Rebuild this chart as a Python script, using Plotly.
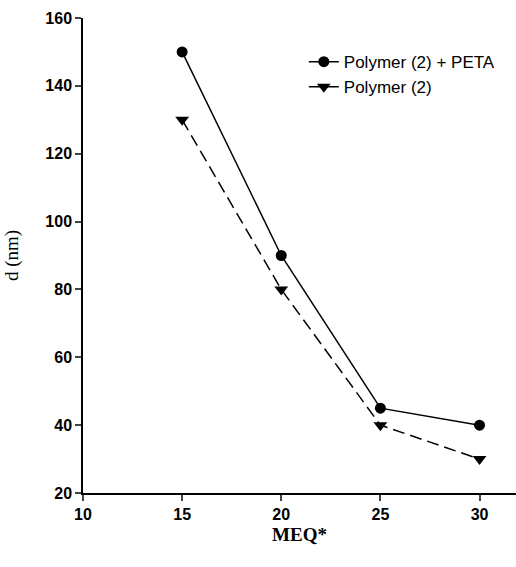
import plotly.graph_objects as go

meq = [15, 20, 25, 30]
peta = [150, 90, 45, 40]
poly = [130, 80, 40, 30]
x_ticks = [10, 15, 20, 25, 30]
y_ticks = [20, 40, 60, 80, 100, 120, 140, 160]

fig = go.Figure()
fig.add_trace(go.Scatter(
    x=meq, y=peta, name="Polymer (2) + PETA", mode="lines+markers",
    line=dict(color="black", width=1.5),
    marker=dict(symbol="circle", size=11, color="black")))
fig.add_trace(go.Scatter(
    x=meq, y=poly, name="Polymer (2)", mode="lines+markers",
    line=dict(color="black", width=1.5, dash="12px,6px"),
    marker=dict(symbol="triangle-down", size=12, color="black")))

tick_font = dict(family="Liberation Sans, Arial", size=16, weight="bold")

fig.update_layout(
    width=516, height=567,
    margin=dict(l=83, r=0, t=18, b=74),
    plot_bgcolor="white", paper_bgcolor="white",
    font=dict(family="Liberation Sans, Arial", color="black", size=13),
    showlegend=True,
    legend=dict(x=0.51, y=0.945, xanchor="left", yanchor="top",
                bgcolor="rgba(0,0,0,0)", font=dict(size=17),
                itemwidth=30, tracegroupgap=0),
    xaxis=dict(range=[10, 31.84], tickvals=x_ticks, ticks="outside", ticklen=6,
               tickwidth=1.5, showline=True, linecolor="black", linewidth=1.5,
               showgrid=False, zeroline=False, tickfont=tick_font,
               title=dict(text="<b>MEQ*</b>", standoff=6,
                          font=dict(family="Liberation Serif, Times New Roman", size=19))),
    yaxis=dict(range=[20, 160], tickvals=y_ticks, ticks="outside", ticklen=6,
               tickwidth=1.5, showline=True, linecolor="black", linewidth=1.5,
               showgrid=False, zeroline=False, tickfont=tick_font,
               title=dict(text="d (nm)", standoff=22,
                          font=dict(family="Liberation Serif, Times New Roman", size=19))),
)

fig.write_html("out.html")
